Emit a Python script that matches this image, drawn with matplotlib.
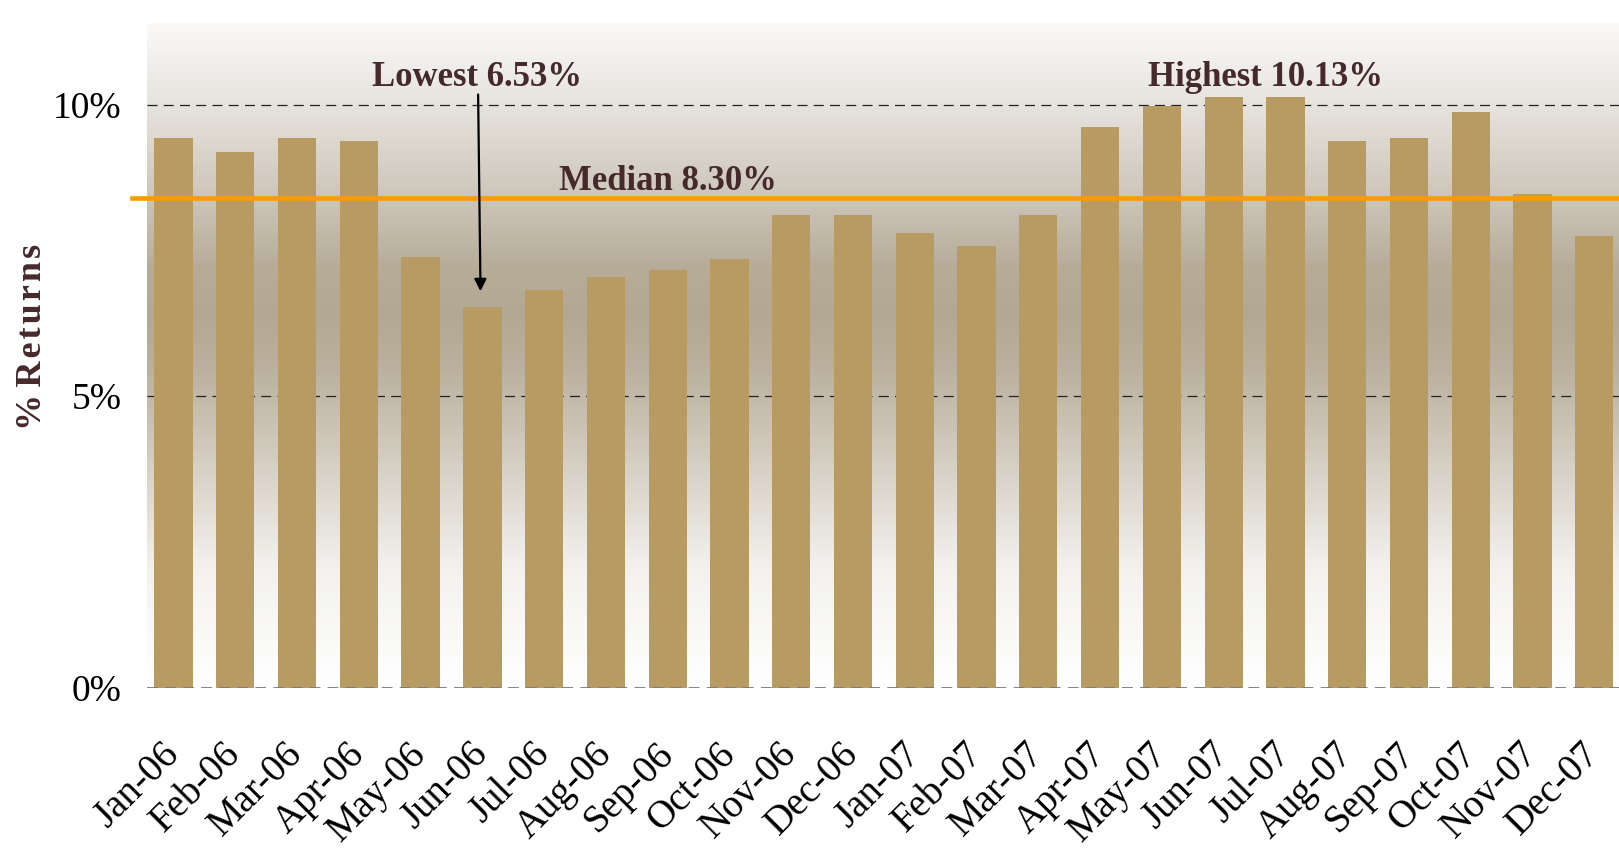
import numpy as np
import matplotlib.pyplot as plt
from matplotlib.colors import LinearSegmentedColormap

months = ["Jan-06", "Feb-06", "Mar-06", "Apr-06", "May-06", "Jun-06",
          "Jul-06", "Aug-06", "Sep-06", "Oct-06", "Nov-06", "Dec-06",
          "Jan-07", "Feb-07", "Mar-07", "Apr-07", "May-07", "Jun-07",
          "Jul-07", "Aug-07", "Sep-07", "Oct-07", "Nov-07", "Dec-07"]
returns = [9.42, 9.19, 9.42, 9.38, 7.39, 6.53,
           6.82, 7.05, 7.17, 7.35, 8.11, 8.11,
           7.79, 7.58, 8.11, 9.61, 9.98, 10.13,
           10.13, 9.38, 9.42, 9.88, 8.46, 7.74]
median_label = 8.30
median_line = 8.40   # where the line sits in the picture
yticks = [0, 5, 10]

serif = "Liberation Serif"
text_col = "#45292B"

fig = plt.figure(figsize=(16.19, 8.49), dpi=100)
ax = fig.add_axes([0.0906, 0.190, 0.9094, 0.783])
ymax = 11.4
x = np.arange(len(months))
ax.set_xlim(-0.435, len(months) - 1 + 0.40)
ax.set_ylim(0, ymax)

# vertical gradient background
stops = [(0.0, "#FFFFFF"), (2.0, "#F3F2EF"), (4.0, "#D2CCC0"), (5.5, "#BAB09D"),
         (6.4, "#B2A893"), (7.2, "#B6AC98"), (8.4, "#CCC5B9"), (10.0, "#E6E3DD"),
         (ymax, "#FAF9F8")]
cmap = LinearSegmentedColormap.from_list("bg", [(v / ymax, c) for v, c in stops])
grad = np.linspace(0, 1, 400).reshape(-1, 1)
ax.imshow(grad, aspect="auto", cmap=cmap, origin="lower",
          extent=[-0.435, len(months) - 1 + 0.40, 0, ymax], zorder=0)

ax.axhline(10, color="#222222", lw=0.9, linestyle=(0, (8, 5)), zorder=1)
ax.axhline(5, color="#222222", lw=0.9, linestyle=(0, (8, 5)), zorder=1)
ax.axhline(0, color="#7A7A7A", lw=1.3, linestyle=(0, (6, 4)), zorder=3)

ax.bar(x, returns, width=0.62, color="#B89A63", zorder=2)

ax.axhline(median_line, xmin=-0.0099, xmax=1, color="#FF9900", lw=3.3,
           zorder=3, clip_on=False)

ax.text(8.0, median_line + 0.0, f"Median {median_label:.2f}%", ha="center",
        va="bottom", fontsize=25, fontweight="bold", family=serif, color=text_col)

lo = int(np.argmin(returns))
hi = int(np.argmax(returns))
ax.text(4.92, 10.46, f"Lowest {returns[lo]:.2f}%", ha="center", va="center",
        fontsize=25, fontweight="bold", family=serif, color=text_col)
ax.text(17.67, 10.46, f"Highest {returns[hi]:.2f}%", ha="center", va="center",
        fontsize=25, fontweight="bold", family=serif, color=text_col)
ax.annotate("", xy=(lo - 0.03, 6.75), xytext=(lo - 0.07, 10.22),
            arrowprops=dict(arrowstyle="-|>", color="black", lw=1.6,
                            mutation_scale=18))

ax.set_yticks(yticks)
ax.set_yticklabels([f"{v}%" for v in yticks], family=serif, fontsize=27)
ax.set_xticks(x)
ax.set_xticklabels(months, rotation=45, ha="right", va="center",
                   rotation_mode="anchor", family=serif, fontsize=28)
ax.tick_params(axis="both", length=0)
ax.tick_params(axis="y", pad=18)
ax.tick_params(axis="x", pad=44)
for s in ax.spines.values():
    s.set_visible(False)

# letter-spaced axis title
label = "%\u2009R\u200ae\u200at\u200au\u200ar\u200an\u200as"
fig.text(0.020, 0.603, label, rotation=90, ha="center", va="center",
         fontsize=26, fontweight="bold", family=serif, color=text_col)

fig.savefig("out.png", dpi=100)
